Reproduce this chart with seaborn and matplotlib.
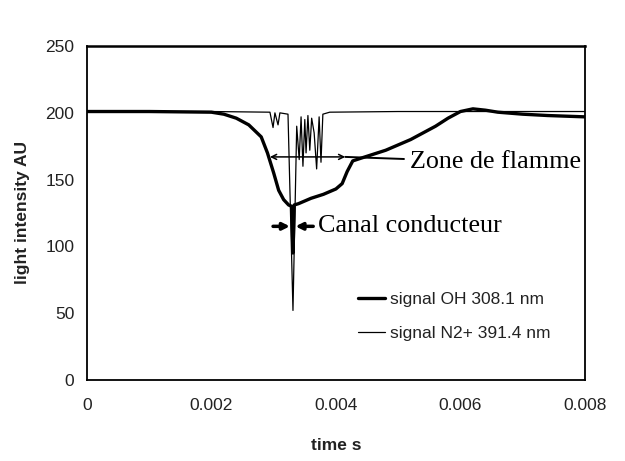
import numpy as np
import pandas as pd
import matplotlib
matplotlib.use("Agg")
import matplotlib.pyplot as plt
import seaborn as sns

# ---- data ----
oh_time = [0.0, 0.001, 0.002, 0.0022, 0.0024, 0.0026, 0.0028, 0.0029, 0.0030,
           0.00308, 0.00316, 0.00324, 0.00329, 0.00331, 0.00333, 0.0034, 0.0036,
           0.0038, 0.0040, 0.0041, 0.00418, 0.00427, 0.0044, 0.0046, 0.0048,
           0.0050, 0.0052, 0.0054, 0.0056, 0.0058, 0.0060, 0.0062, 0.0064,
           0.0066, 0.0070, 0.0074, 0.0080]
oh_value = [201, 201, 200.5, 199, 196, 191, 182, 170, 155,
            142, 135, 131, 130, 95, 131, 132, 136,
            139, 143, 147, 156, 164, 166, 169, 172,
            176, 180, 185, 190, 196, 201, 203, 202,
            200.5, 199, 198, 197]

n2_time = [0.0, 0.002, 0.00294, 0.00299, 0.00302, 0.00307, 0.00310, 0.00323,
           0.00331, 0.00337, 0.00341, 0.00344, 0.00347, 0.00350, 0.00352,
           0.00355, 0.00358, 0.00361, 0.00365, 0.00369, 0.00373, 0.00376,
           0.00379, 0.0039, 0.005, 0.008]
n2_value = [201, 201, 200.5, 189, 200, 191, 200, 199,
            52, 190, 165, 197, 160, 195, 170,
            198, 172, 196, 185, 158, 197, 163,
            199, 200.5, 201, 201]

series_oh = "signal OH 308.1 nm"
series_n2 = "signal N2+ 391.4 nm"

x_ticks = [0, 0.002, 0.004, 0.006, 0.008]
x_ticklabels = ["0", "0.002", "0.004", "0.006", "0.008"]
y_ticks = [0, 50, 100, 150, 200, 250]

df_oh = pd.DataFrame({"time": oh_time, "value": oh_value})
df_n2 = pd.DataFrame({"time": n2_time, "value": n2_value})

sns.set_theme(style="white")
plt.rcParams["font.family"] = ["Liberation Sans", "DejaVu Sans"]

fig = plt.figure(figsize=(6.25, 4.61), dpi=100)
ax = fig.add_axes([0.139, 0.176, 0.797, 0.724])

sns.lineplot(data=df_oh, x="time", y="value", ax=ax, color="black",
             linewidth=2.4, label=series_oh, estimator=None, sort=False)
sns.lineplot(data=df_n2, x="time", y="value", ax=ax, color="black",
             linewidth=0.9, label=series_n2, estimator=None, sort=False)

ax.set_xlim(0, 0.008)
ax.set_ylim(0, 250)
ax.set_xticks(x_ticks)
ax.set_xticklabels(x_ticklabels)
ax.set_yticks(y_ticks)
ax.tick_params(direction="in", length=4, width=1.2, colors="#222222",
               labelsize=12.5)
ax.tick_params(axis="x", pad=13)
ax.tick_params(axis="y", pad=9)
for s in ax.spines.values():
    s.set_color("black")
    s.set_linewidth(1.3)
ax.spines["top"].set_linewidth(1.8)

ax.set_xlabel("time s", fontsize=12.5, fontweight="bold", color="#222222", labelpad=18)
ax.set_ylabel("light intensity AU", fontsize=12.5, fontweight="bold", color="#222222", labelpad=11)

leg = ax.legend(loc="upper left", bbox_to_anchor=(0.512, 0.31), frameon=False,
                fontsize=12.5, handlelength=1.6, handletextpad=0.25,
                labelspacing=1.1, labelcolor="#222222")

# annotations
ax.annotate("", xy=(0.00294, 167), xytext=(0.00415, 167),
            arrowprops=dict(arrowstyle="<->", lw=1.1, color="black",
                            shrinkA=0, shrinkB=0, mutation_scale=9))
ax.annotate("Zone de flamme", xy=(0.00415, 167), xytext=(0.00519, 163),
            va="center", ha="left", fontsize=18.8, family="Liberation Serif",
            color="black",
            arrowprops=dict(arrowstyle="-", lw=1.4, color="black",
                            shrinkA=2, shrinkB=0))

ax.annotate("", xy=(0.00326, 115), xytext=(0.00299, 115),
            arrowprops=dict(arrowstyle="-|>", lw=2.5, color="black",
                            shrinkA=0, shrinkB=0, mutation_scale=10))
ax.annotate("Canal conducteur", xy=(0.00335, 115), xytext=(0.00371, 115),
            va="center", ha="left", fontsize=18.8, family="Liberation Serif",
            color="black",
            arrowprops=dict(arrowstyle="-|>", lw=2.5, color="black",
                            shrinkA=1, shrinkB=0, mutation_scale=10))

fig.savefig("out.png", dpi=100)
